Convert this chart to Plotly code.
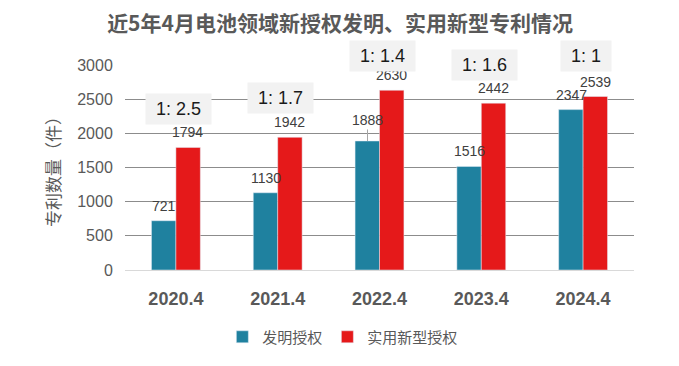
import plotly.graph_objects as go

categories = ["2020.4", "2021.4", "2022.4", "2023.4", "2024.4"]
invention = [721, 1130, 1888, 1516, 2347]
utility = [1794, 1942, 2630, 2442, 2539]
ratios = ["1: 2.5", "1: 1.7", "1: 1.4", "1: 1.6", "1: 1"]
ratio_y = [2356, 2510, 3132, 3000, 3132]

Y_MAX = 3000
FONT = "Liberation Sans"
CJK = "Noto Sans CJK SC"
TEAL = "#1F819F"
RED = "#E5191A"

fig = go.Figure()
fig.add_trace(go.Bar(x=categories, y=invention, name="发明授权", marker_color=TEAL))
fig.add_trace(go.Bar(x=categories, y=utility, name="实用新型授权", marker_color=RED))

# value labels (positioned by category index on the category axis)
for i, c in enumerate(categories):
    lead = (i == 2)
    fig.add_annotation(
        x=i, y=invention[i], xref="x", yref="y", text=str(invention[i]),
        showarrow=True, ax=0, ay=-21 if lead else -15, arrowhead=0,
        arrowwidth=1, arrowcolor="#A6A6A6" if lead else "rgba(0,0,0,0)",
        standoff=0, xshift=-12,
        font=dict(size=14, color="#404040", family=FONT),
    )
    fig.add_annotation(
        x=i, y=utility[i], xref="x", yref="y", text=str(utility[i]),
        showarrow=True, ax=0, ay=-15, arrowhead=0,
        arrowwidth=1, arrowcolor="rgba(0,0,0,0)", standoff=0, xshift=12,
        font=dict(size=14, color="#404040", family=FONT),
    )

# ratio boxes (paper y so those above the axis top stay visible)
for i, (r, yv) in enumerate(zip(ratios, ratio_y)):
    fig.add_annotation(
        x=i, y=yv / Y_MAX, xref="x", yref="paper",
        xanchor="center", yanchor="middle",
        text="\u00a0" + r + "\u00a0", showarrow=False,
        font=dict(size=18, color="#1A1A1A", family=FONT),
        bgcolor="#F2F2F2", borderpad=5, xshift=3,
    )

fig.update_layout(
    width=679, height=366,
    margin=dict(l=117, r=53, t=57, b=104),
    paper_bgcolor="white", plot_bgcolor="white",
    barmode="group", bargap=0.52,
    title=dict(
        text="<b>近5年4月电池领域新授权发明、实用新型专利情况</b>",
        x=0.489, xanchor="center", y=0.958, yanchor="middle",
        font=dict(size=21, color="#595959", family=CJK),
    ),
    legend=dict(
        orientation="h", x=0.428, xanchor="center", y=-0.327, yanchor="middle",
        font=dict(size=15, color="#595959", family=CJK),
    ),
    yaxis=dict(
        range=[0, Y_MAX], dtick=500,
        showgrid=True, gridcolor="#8C8C8C", gridwidth=1,
        zeroline=True, zerolinecolor="#D9D9D9", zerolinewidth=1,
        tickfont=dict(size=16, color="#595959", family=FONT),
        title=dict(text="专利数量（件）", standoff=12,
                   font=dict(size=17, color="#595959", family=CJK)),
        ticks="outside", ticklen=8, tickcolor="rgba(0,0,0,0)",
    ),
    xaxis=dict(
        type="category", range=[-0.5, len(categories) - 0.5],
        showline=True, linecolor="#D9D9D9", linewidth=1,
        tickfont=dict(size=18, color="#595959", family=FONT),
        tickmode="array", tickvals=categories,
        ticktext=["<b>" + c + "</b>" for c in categories],
        ticks="outside", ticklen=12, tickcolor="rgba(0,0,0,0)",
    ),
)

fig.write_html("out.html")
